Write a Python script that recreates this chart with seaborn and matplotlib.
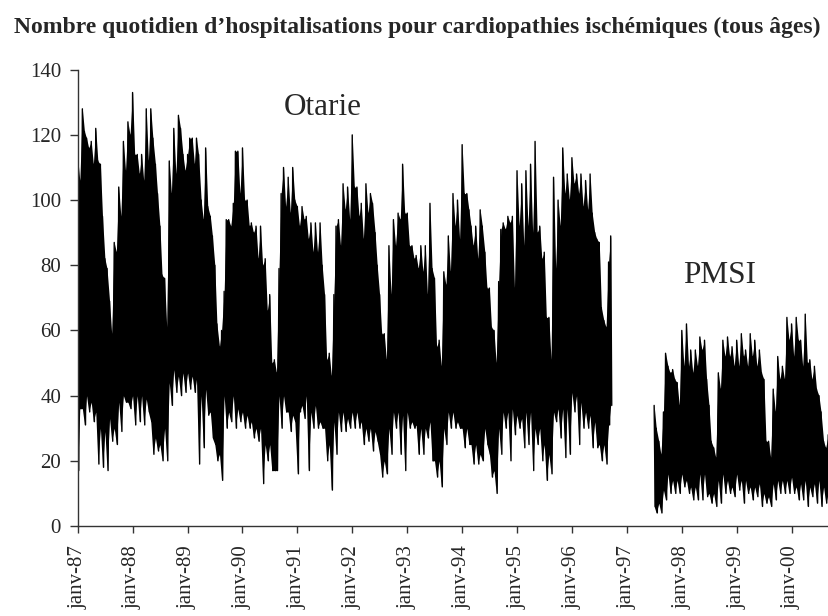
import pandas as pd
import matplotlib
matplotlib.use("Agg")
import matplotlib.pyplot as plt
import seaborn as sns

# --- Data (half-month peaks and troughs) ---
TITLE = "Nombre quotidien d\u2019hospitalisations pour cardiopathies ischémiques (tous âges)"

otarie_start = "1987-01-01"
otarie_high = [
    113, 106, 128, 121, 119, 116, 118, 111, 122, 112, 111, 95, 82, 79, 69, 59, 87, 84, 104, 95, 118, 109, 124, 120,  # 1987
    133, 114, 114, 108, 114, 106, 128, 112, 128, 119, 111, 102, 92, 77, 76, 61, 112, 102, 122, 108, 126, 122, 114, 109,  # 1988
    114, 119, 119, 111, 119, 114, 100, 94, 116, 98, 95, 89, 80, 62, 55, 60, 72, 94, 94, 92, 99, 115, 115, 102,  # 1989
    116, 100, 100, 92, 93, 90, 92, 82, 92, 80, 82, 66, 71, 50, 51, 47, 79, 102, 110, 98, 107, 96, 110, 100,  # 1990
    98, 92, 98, 94, 95, 88, 93, 84, 93, 84, 93, 80, 71, 51, 53, 46, 71, 92, 94, 86, 105, 97, 104, 94,  # 1991
    120, 104, 104, 95, 99, 88, 105, 96, 102, 99, 90, 80, 71, 59, 59, 51, 86, 71, 94, 86, 96, 94, 111, 96,  # 1992
    96, 86, 86, 82, 83, 79, 86, 78, 86, 71, 99, 79, 76, 55, 57, 49, 78, 74, 89, 78, 102, 92, 100, 88,  # 1993
    117, 102, 102, 97, 92, 86, 92, 82, 97, 92, 84, 73, 73, 61, 60, 50, 75, 91, 93, 91, 95, 93, 95, 73,  # 1994
    109, 92, 105, 86, 109, 92, 111, 90, 118, 90, 92, 82, 84, 64, 64, 51, 107, 79, 100, 92, 116, 102, 108, 100,  # 1995
    113, 105, 108, 102, 108, 98, 106, 97, 108, 96, 90, 88, 87, 67, 63, 61, 81, 89,  # 1996
]
otarie_low = [
    17, 36, 36, 31, 40, 35, 38, 32, 35, 19, 30, 18, 29, 17, 33, 26, 30, 25, 38, 29, 40, 38, 38, 36,  # 1987
    40, 31, 40, 32, 40, 31, 39, 35, 32, 22, 27, 23, 25, 20, 30, 20, 44, 37, 48, 41, 46, 40, 47, 41,  # 1988
    47, 42, 46, 41, 45, 19, 40, 24, 42, 34, 35, 27, 25, 20, 22, 14, 40, 30, 35, 32, 40, 30, 36, 32,  # 1989
    35, 30, 34, 30, 32, 27, 30, 26, 30, 13, 25, 20, 25, 17, 17, 17, 40, 30, 40, 35, 35, 29, 34, 32,  # 1990
    16, 35, 37, 33, 40, 17, 35, 30, 37, 30, 32, 30, 30, 20, 25, 11, 32, 22, 35, 29, 35, 29, 33, 30,  # 1991
    35, 30, 35, 30, 32, 25, 30, 26, 30, 23, 29, 26, 22, 15, 20, 16, 30, 22, 35, 30, 35, 22, 34, 17,  # 1992
    35, 30, 32, 30, 31, 22, 30, 22, 30, 27, 32, 20, 20, 15, 20, 12, 30, 25, 35, 30, 35, 30, 32, 30,  # 1993
    30, 24, 30, 25, 25, 19, 25, 19, 22, 20, 30, 25, 22, 15, 17, 10, 30, 22, 35, 30, 35, 20, 36, 28,  # 1994
    34, 30, 33, 24, 35, 25, 35, 17, 30, 25, 30, 20, 25, 14, 22, 16, 35, 32, 36, 27, 36, 21, 36, 22,  # 1995
    41, 35, 40, 25, 38, 30, 35, 30, 34, 24, 32, 24, 25, 20, 25, 19, 31, 37,  # 1996
]

pmsi_start = "1997-07-01"
pmsi_high = [
    37, 30, 26, 22, 35, 53, 49, 47, 48, 45, 44, 37,  # 1997
    60, 49, 62, 49, 54, 47, 54, 49, 58, 54, 57, 45, 37, 26, 24, 21, 47, 42, 57, 52, 58, 52, 55, 49,  # 1998
    57, 49, 59, 52, 54, 49, 59, 52, 57, 49, 54, 47, 45, 26, 26, 21, 42, 35, 52, 45, 49, 45, 64, 57,  # 1999
    62, 52, 64, 57, 57, 49, 65, 50, 51, 45, 49, 42, 40, 35, 26, 24, 28, 25,  # 2000
]
pmsi_low = [
    6, 4, 7, 4, 11, 8, 16, 10, 14, 10, 14, 10,  # 1997
    16, 12, 14, 10, 12, 8, 12, 8, 16, 8, 16, 9, 10, 7, 10, 6, 14, 7, 16, 10, 14, 10, 12, 9,  # 1998
    16, 11, 14, 7, 14, 10, 12, 8, 12, 9, 13, 6, 10, 7, 9, 6, 13, 8, 14, 10, 14, 10, 14, 10,  # 1999
    15, 10, 12, 8, 13, 8, 14, 6, 12, 9, 13, 7, 14, 6, 12, 7, 10, 12,  # 2000
]

tick_labels = ["janv-87", "janv-88", "janv-89", "janv-90", "janv-91", "janv-92", "janv-93",
               "janv-94", "janv-95", "janv-96", "janv-97", "janv-98", "janv-99", "janv-00"]


def zigzag(start, highs, lows):
    """Peak on the 1st/15th, trough a week later -> dense daily-like trace."""
    half = pd.date_range(start, periods=len(highs), freq="SMS")
    df = pd.DataFrame({
        "date": list(half) + list(half + pd.Timedelta(days=7)),
        "n": highs + lows,
    })
    return half, df.sort_values("date").reset_index(drop=True)


otarie_half, otarie = zigzag(otarie_start, otarie_high, otarie_low)
pmsi_half, pmsi = zigzag(pmsi_start, pmsi_high, pmsi_low)

# --- Plot ---
sns.set_style("ticks")
plt.rcParams["font.family"] = ["Liberation Serif", "DejaVu Serif"]

fig = plt.figure(figsize=(8.29, 6.16), dpi=100)
ax = fig.add_axes([77.7 / 829, 1 - 526 / 616, 1 - 77.7 / 829, (526 - 69.7) / 616])

# dense core of the daily series, then the trace itself on top
ax.fill_between(otarie_half, otarie_low, otarie_high, color="black", lw=0)
ax.fill_between(pmsi_half, pmsi_low, pmsi_high, color="black", lw=0)
sns.lineplot(data=otarie, x="date", y="n", ax=ax, color="black", lw=1.0, estimator=None)
sns.lineplot(data=pmsi, x="date", y="n", ax=ax, color="black", lw=1.0, estimator=None)

ax.set_xlim(pd.Timestamp("1987-01-01"), pd.Timestamp("2000-09-06"))
ax.set_ylim(0, 140)
ax.set_yticks(range(0, 141, 20))
ax.set_xticks(pd.date_range("1987-01-01", "2000-01-01", freq="YS"))
ax.set_xticklabels(tick_labels, rotation=90)
ax.set_xlabel("")
ax.set_ylabel("")

for side in ["top", "right"]:
    ax.spines[side].set_visible(False)
for side in ["left", "bottom"]:
    ax.spines[side].set_color("#333333")
    ax.spines[side].set_linewidth(1.0)
ax.tick_params(axis="y", direction="out", length=6, width=1, color="#333333", labelsize=15, pad=6)
ax.tick_params(axis="x", direction="out", length=5, width=1, color="#333333", labelsize=15, pad=9)

ax.text(pd.Timestamp("1991-06-20"), 128.5, "Otarie", fontsize=22.5, ha="center", va="center")
ax.text(pd.Timestamp("1998-09-12"), 77, "PMSI", fontsize=22.5, ha="center", va="center")

fig.text(0.5036, 0.956, TITLE, fontsize=17, fontweight="bold", ha="center", va="center")

fig.savefig("out.png", dpi=100)
